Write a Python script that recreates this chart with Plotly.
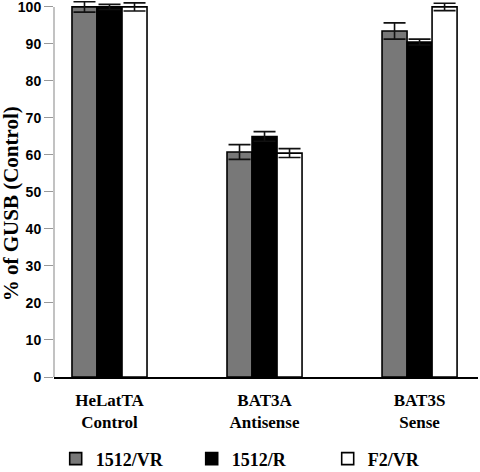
import plotly.graph_objects as go

categories = ["HeLatTA<br>Control", "BAT3A<br>Antisense", "BAT3S<br>Sense"]
series_names = ["1512/VR", "1512/R", "F2/VR"]
vals_1512_vr = [100.0, 60.8, 93.5]
err_1512_vr = [1.4, 2.0, 2.2]
vals_1512_r = [100.0, 65.0, 90.5]
err_1512_r = [0.7, 1.3, 0.8]
vals_f2_vr = [100.0, 60.5, 100.0]
err_f2_vr = [1.1, 1.2, 1.0]
colors = ["#787878", "#000000", "#ffffff"]
y_ticks = [0, 10, 20, 30, 40, 50, 60, 70, 80, 90, 100]
y_title = "% of GUSB (Control)"

fig = go.Figure()
for name, vals, errs, col in zip(series_names,
                                 [vals_1512_vr, vals_1512_r, vals_f2_vr],
                                 [err_1512_vr, err_1512_r, err_f2_vr],
                                 colors):
    fig.add_trace(go.Bar(
        x=categories, y=vals, name=name,
        marker=dict(color=col, line=dict(color="#000000", width=1.6)),
        error_y=dict(type="data", array=errs, visible=True,
                     color="#111111", thickness=1.6, width=11),
    ))

serif = "Liberation Serif, Times New Roman, serif"
sans = "Liberation Sans, Arial, sans-serif"

fig.update_layout(
    width=480, height=472,
    margin=dict(l=54, r=2, t=1, b=95, autoexpand=False),
    paper_bgcolor="white", plot_bgcolor="white",
    barmode="group", bargap=0.516, bargroupgap=0,
    showlegend=True,
    legend=dict(orientation="h", x=0.004, y=-0.218, xanchor="left", yanchor="middle",
                font=dict(family=serif, size=18, color="black", weight="bold"),
                entrywidth=91, entrywidthmode="pixels",
                itemwidth=30, bgcolor="rgba(0,0,0,0)"),
    xaxis=dict(
        range=[-0.358, 2.377],
        showline=True, linecolor="black", linewidth=1.6,
        showgrid=False, ticks="", zeroline=False, automargin=False,
        tickfont=dict(family=serif, size=17, color="black", weight="bold"),
        ticklabelstandoff=7,
    ),
    yaxis=dict(
        range=[0, 101.6],
        tickvals=y_ticks, automargin=False, ticklabeloverflow="allow",
        showline=False, showgrid=False, zeroline=False,
        ticks="outside", ticklen=9, tickcolor="#999999", tickwidth=1,
        tickfont=dict(family=sans, size=14, color="black", weight="bold"),
    ),
    annotations=[dict(text=y_title, textangle=-90, showarrow=False,
                      xref="paper", yref="paper", x=-0.101, y=0.46,
                      xanchor="center", yanchor="middle",
                      font=dict(family=serif, size=21, color="black", weight="bold"))],
    shapes=[dict(type="line", xref="paper", yref="y", x0=0, x1=0, y0=0, y1=100,
                 line=dict(color="#999999", width=1.2), layer="below")],
)

fig.write_html("out.html", config={"displayModeBar": False},
               post_script="document.body.style.margin='0px';")
